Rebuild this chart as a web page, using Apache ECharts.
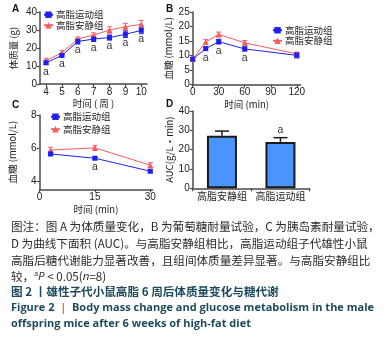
<!DOCTYPE html>
<html><head><meta charset="utf-8">
<script src="https://cdn.jsdelivr.net/npm/echarts@6/dist/echarts.min.js"></script>
<style>html,body{margin:0;padding:0;background:#fff}#c{width:386px;height:341px}</style>
</head><body><div id="c"></div>
<script>
// ---------- data ----------
const groupEx = '高脂运动组';
const groupSed = '高脂安静组';

// A: body mass (g) by week
const weeks = [4, 5, 6, 7, 8, 9, 10];
const weekTicks = [4, 5, 6, 7, 8, 9, 10];
const massEx = [11.8, 15.9, 23.6, 25.0, 25.8, 27.6, 29.8];
const massExErr = [1.0, 1.0, 1.4, 1.4, 1.4, 1.8, 1.9];
const massSed = [13.0, 17.4, 25.0, 27.2, 30.0, 31.8, 33.2];
const massSedErr = [1.3, 1.1, 1.1, 1.2, 1.8, 1.9, 2.1];
const massSig = ['a', 'a', 'a', 'a', 'a', 'a', 'a'];

// B: glucose tolerance test (mmol/L)
const gttTime = [0, 15, 30, 60, 120];
const gttTicks = [0, 30, 60, 90, 120];
const gttEx = [8.8, 12.4, 14.8, 12.3, 10.1];
const gttExErr = [0.5, 0.6, 0.8, 0.7, 0.9];
const gttSed = [8.8, 14.7, 17.3, 14.4, 10.6];
const gttSedErr = [0.5, 0.8, 0.8, 0.8, 0.6];
const gttSig = ['', 'a', 'a', 'a', ''];

// C: insulin tolerance test (mmol/L)
const ittTime = [3, 15, 30];
const ittTicks = [0, 15, 30];
const ittYTicks = [4, 6, 8];
const ittEx = [5.63, 5.37, 4.58];
const ittExErr = [0.1, 0.08, 0.08];
const ittSed = [5.87, 6.0, 4.95];
const ittSedErr = [0.17, 0.13, 0.15];
const ittSig = ['', 'a', ''];

// D: area under curve
const aucGroups = ['高脂安静组', '高脂运动组'];
const aucValues = [27.2, 24.0];
const aucErr = [2.4, 2.2];
const aucSig = ['', 'a'];

// caption
const captionLines = [
  '图注：图 A 为体质量变化，B 为葡萄糖耐量试验，C 为胰岛素耐量试验，',
  'D 为曲线下面积 (AUC)。与高脂安静组相比，高脂运动组子代雄性小鼠',
  '高脂后糖代谢能力显著改善，且组间体质量差异显著。与高脂安静组比',
  '较，{sup|a}{it|P} < 0.05({it|n}=8)'
];
const titleCn = '图 2 丨雄性子代小鼠高脂 6 周后体质量变化与糖代谢';
const titleEn1 = 'Figure 2  {bar||}  Body mass change and glucose metabolism in the male';
const titleEn2 = 'offspring mice after 6 weeks of high-fat diet';

// ---------- styling ----------
const BLUE = '#1f1ff5';
const RED = '#f75c5c';
const AX = '#4a4a4a';
const TXT = '#222';
const CJK = '"Noto Sans CJK SC", "Liberation Sans", sans-serif';
const LAT = '"Liberation Sans", Arial, sans-serif';

const chart = echarts.init(document.getElementById('c'), null, {renderer: 'canvas'});

function valAxis(o) {
  return Object.assign({
    type: 'value', splitLine: {show: false},
    axisLine: {show: true, onZero: false, lineStyle: {color: AX, width: 1.5}},
    axisTick: {show: true, length: 3, lineStyle: {color: AX, width: 1.2}},
    axisLabel: {color: TXT, fontSize: 10, fontFamily: LAT, margin: 3},
    nameLocation: 'middle',
    nameTextStyle: {color: TXT, fontSize: 9.5, fontFamily: CJK}
  }, o);
}

function lineSeries(name, xs, ys, sig, color, symbol, xi, yi) {
  return {
    type: 'line', name: name, xAxisIndex: xi, yAxisIndex: yi,
    symbol: symbol, symbolSize: symbol === 'triangle' ? 6 : 5,
    lineStyle: {color: color, width: 1}, itemStyle: {color: color},
    z: 4,
    data: xs.map((x, i) => ({
      value: [x, ys[i]],
      label: {show: !!(sig && sig[i]), formatter: sig ? sig[i] : ''}
    })),
    label: {position: 'bottom', distance: 1, color: '#333', fontSize: 10.5, fontFamily: LAT}
  };
}

function errSeries(xs, ys, es, color, xi, yi, cap, upperOnly) {
  return {
    type: 'custom', xAxisIndex: xi, yAxisIndex: yi, silent: true, z: 3,
    data: xs.map((x, i) => [x, ys[i] - es[i], ys[i] + es[i], ys[i]]),
    renderItem: function (params, api) {
      const lo = api.coord([api.value(0), upperOnly ? api.value(3) : api.value(1)]);
      const hi = api.coord([api.value(0), api.value(2)]);
      const st = {stroke: color, lineWidth: upperOnly ? 1.5 : 1};
      const ch = [
        {type: 'line', shape: {x1: hi[0], y1: hi[1], x2: lo[0], y2: lo[1]}, style: st},
        {type: 'line', shape: {x1: hi[0] - cap, y1: hi[1], x2: hi[0] + cap, y2: hi[1]}, style: st}
      ];
      if (!upperOnly) ch.push({type: 'line', shape: {x1: lo[0] - cap, y1: lo[1], x2: lo[0] + cap, y2: lo[1]}, style: st});
      return {type: 'group', children: ch};
    }
  };
}

const legendBase = {
  orient: 'vertical', itemWidth: 9, itemHeight: 8, itemGap: 1, padding: 0,
  data: [groupEx, groupSed], selectedMode: false,
  textStyle: {fontSize: 9.5, fontFamily: CJK, color: TXT, lineHeight: 9, padding: [0, 0, 0, -2]}
};

const option = {
  animation: false,
  backgroundColor: '#fff',
  grid: [
    {left: 40, top: 12, width: 107, height: 72},
    {left: 192.7, top: 12, width: 108, height: 72.7},
    {left: 39.5, top: 115, width: 113, height: 74.3},
    {left: 192.7, top: 111, width: 117, height: 77.3}
  ],
  legend: [
    Object.assign({left: 43, top: 10}, legendBase),
    Object.assign({left: 272, top: 25.5}, legendBase),
    Object.assign({left: 50, top: 112}, legendBase, {itemGap: 3})
  ],
  xAxis: [
    valAxis({gridIndex: 0, min: 3.62, max: 10.36, name: '时间 ( 周 )', nameGap: 15,
      axisLabel: {color: TXT, fontSize: 10, fontFamily: LAT, margin: 3, customValues: weekTicks},
      axisTick: {show: true, length: 3, lineStyle: {color: AX, width: 1.2}, customValues: weekTicks}}),
    valAxis({gridIndex: 1, min: 0, max: 124.5, name: '时间 (min)', nameGap: 15,
      axisLabel: {color: TXT, fontSize: 10, fontFamily: LAT, margin: 3, customValues: gttTicks},
      axisTick: {show: true, length: 3, lineStyle: {color: AX, width: 1.2}, customValues: gttTicks}}),
    valAxis({gridIndex: 2, min: 0, max: 30.6, name: '时间 (min)', nameGap: 15,
      axisLabel: {color: TXT, fontSize: 10, fontFamily: LAT, margin: 3, customValues: ittTicks},
      axisTick: {show: true, length: 3, lineStyle: {color: AX, width: 1.2}, customValues: ittTicks}}),
    {type: 'category', gridIndex: 3, data: aucGroups,
      axisLine: {show: true, lineStyle: {color: AX, width: 1.5}},
      axisTick: {show: true, length: 3, interval: 0, lineStyle: {color: AX, width: 1.2}},
      axisLabel: {color: TXT, fontSize: 10, fontFamily: CJK, margin: 3, interval: 0, hideOverlap: false}}
  ],
  yAxis: [
    valAxis({gridIndex: 0, min: 0, max: 40, interval: 10, name: '体质量 (g)', nameGap: 22}),
    valAxis({gridIndex: 1, min: 0, max: 25, interval: 5, name: '血糖 (mmol/L)', nameGap: 20}),
    valAxis({gridIndex: 2, min: 3.48, max: 8, name: '血糖 (mmol/L)', nameGap: 22,
      axisLabel: {color: TXT, fontSize: 10, fontFamily: LAT, margin: 3, customValues: ittYTicks},
      axisTick: {show: true, length: 3, lineStyle: {color: AX, width: 1.2}, customValues: ittYTicks}}),
    valAxis({gridIndex: 3, min: 0, max: 40, interval: 10, name: 'AUC(g/L・min)', nameGap: 19})
  ],
  series: [
    errSeries(weeks, massSed, massSedErr, RED, 0, 0, 2.5),
    errSeries(weeks, massEx, massExErr, BLUE, 0, 0, 2.5),
    lineSeries(groupSed, weeks, massSed, null, RED, 'triangle', 0, 0),
    lineSeries(groupEx, weeks, massEx, massSig, BLUE, 'rect', 0, 0),

    errSeries(gttTime, gttSed, gttSedErr, RED, 1, 1, 2.5),
    errSeries(gttTime, gttEx, gttExErr, BLUE, 1, 1, 2.5),
    lineSeries(groupSed, gttTime, gttSed, null, RED, 'triangle', 1, 1),
    lineSeries(groupEx, gttTime, gttEx, gttSig, BLUE, 'rect', 1, 1),

    errSeries(ittTime, ittSed, ittSedErr, RED, 2, 2, 2.5),
    errSeries(ittTime, ittEx, ittExErr, BLUE, 2, 2, 2.5),
    lineSeries(groupSed, ittTime, ittSed, null, RED, 'triangle', 2, 2),
    lineSeries(groupEx, ittTime, ittEx, ittSig, BLUE, 'rect', 2, 2),

    {type: 'bar', xAxisIndex: 3, yAxisIndex: 3, barWidth: 30, z: 2,
      itemStyle: {color: '#4a94ff', borderColor: '#1a1a1a', borderWidth: 2},
      data: aucValues.map((v, i) => ({value: v, label: {show: !!aucSig[i], formatter: aucSig[i]}})),
      label: {position: 'top', distance: 6, color: '#333', fontSize: 10.5, fontFamily: LAT}},
    errSeries([0, 1], aucValues, aucErr, '#1a1a1a', 3, 3, 7, true)
  ],
  graphic: [
    {type: 'text', left: 12, top: 4, style: {text: 'A', font: 'bold 10px ' + LAT, fill: '#111'}},
    {type: 'text', left: 166, top: 4, style: {text: 'B', font: 'bold 10px ' + LAT, fill: '#111'}},
    {type: 'text', left: 12, top: 100, style: {text: 'C', font: 'bold 10px ' + LAT, fill: '#111'}},
    {type: 'text', left: 166, top: 99, style: {text: 'D', font: 'bold 10px ' + LAT, fill: '#111'}}
  ].concat(captionLines.map((t, i) => ({
    type: 'text', left: 11, top: [221, 238, 254.5, 270][i],
    style: {text: t, fill: '#2a2a2a', fontSize: 11.6, fontFamily: '"Noto Sans CJK SC", "Open Sans", sans-serif',
      rich: {
        sup: {fontSize: 7, verticalAlign: 'top', fill: '#2a2a2a', fontFamily: 'Open Sans', padding: [0, 0, 6, 0]},
        it: {fontStyle: 'italic', fontSize: 11.6, fill: '#2a2a2a', fontFamily: 'Open Sans'}
      }}
  }))).concat([
    {type: 'text', left: 11, top: 286, style: {text: titleCn, fill: '#1d4a5c', fontSize: 11.6, fontWeight: 'bold',
      fontFamily: '"Noto Sans CJK SC", sans-serif'}},
    {type: 'text', left: 11, top: 302, style: {text: titleEn1, fill: '#1d4a5c', fontSize: 11, fontWeight: 'bold',
      fontFamily: '"Open Sans", sans-serif', rich: {bar: {fill: '#c8762e', fontSize: 11, fontWeight: 'bold', fontFamily: 'Open Sans'}}}},
    {type: 'text', left: 11, top: 318, style: {text: titleEn2, fill: '#1d4a5c', fontSize: 11, fontWeight: 'bold',
      fontFamily: '"Open Sans", sans-serif'}}
  ])
};
chart.setOption(option);
</script>
</body></html>
